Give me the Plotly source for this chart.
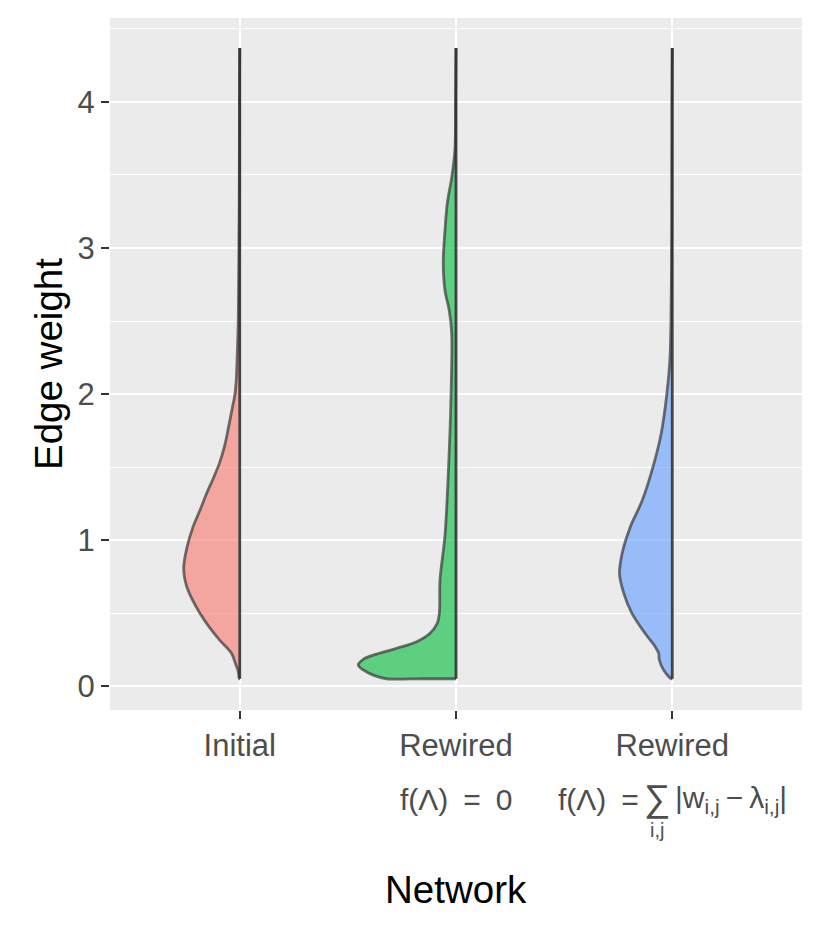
import plotly.graph_objects as go

# ---- data ----
categories = ["Initial", "Rewired", "Rewired"]
positions = [1, 2, 3]
fill_colors = ["rgba(248,118,109,0.6)", "rgba(0,186,56,0.6)", "rgba(97,156,255,0.6)"]

# half-violin outlines: edge weight (y) and half width (density scaled, x units)
initial_y = [0.05, 0.10, 0.15, 0.225, 0.315, 0.40, 0.50, 0.60, 0.68, 0.76, 0.82, 0.95,
             1.09, 1.20, 1.32, 1.43, 1.53, 1.65, 1.78, 1.90, 2.00, 2.10, 2.23, 2.50,
             3.00, 3.50, 4.00, 4.37]
initial_w = [0.002, 0.007, 0.019, 0.038, 0.093, 0.139, 0.185, 0.222, 0.245, 0.257, 0.259, 0.244,
             0.216, 0.185, 0.153, 0.120, 0.093, 0.069, 0.051, 0.035, 0.022, 0.016, 0.0125, 0.007,
             0.004, 0.002, 0.0014, 0.0]

rewired0_y = [0.05, 0.05, 0.075, 0.11, 0.144, 0.183, 0.219, 0.258, 0.303, 0.361, 0.429, 0.498, 0.726,
              1.03, 1.51, 1.99, 2.42, 2.57, 2.71, 2.90, 3.12, 3.31, 3.48, 3.67, 4.00, 4.37]
rewired0_w = [0.16, 0.321, 0.383, 0.429, 0.452, 0.429, 0.367, 0.275, 0.182, 0.120, 0.087, 0.077, 0.074,
              0.051, 0.034, 0.023, 0.020, 0.031, 0.051, 0.059, 0.051, 0.040, 0.020, 0.005, 0.002, 0.0]

rewiredf_y = [0.05, 0.11, 0.18, 0.225, 0.27, 0.36, 0.50, 0.64, 0.77, 0.86, 0.95, 1.09,
              1.27, 1.48, 1.73, 2.00, 2.23, 2.50, 3.00, 3.50, 4.00, 4.37]
rewiredf_w = [0.005, 0.040, 0.060, 0.063, 0.079, 0.125, 0.187, 0.225, 0.244, 0.238, 0.225, 0.194,
              0.139, 0.093, 0.051, 0.025, 0.011, 0.006, 0.003, 0.002, 0.0014, 0.0]

series = [(initial_y, initial_w), (rewired0_y, rewired0_w), (rewiredf_y, rewiredf_w)]

y_ticks = [0, 1, 2, 3, 4]

FONT = "Liberation Sans, Arial, Helvetica, sans-serif"
GREY = "#4D4D4D"

fig = go.Figure()

for pos, (ys, ws), fc in zip(positions, series, fill_colors):
    xs = [pos] + [pos - w for w in ws]
    yy = [ys[0]] + list(ys)
    fig.add_trace(go.Scatter(
        x=xs, y=yy, mode="lines", fill="toself", fillcolor=fc,
        line=dict(color="rgba(60,60,60,0.72)", width=2.8, shape="spline", smoothing=0.9),
        hoverinfo="skip", showlegend=False))
    fig.add_trace(go.Scatter(
        x=[pos, pos], y=[ys[0], ys[-1]], mode="lines",
        line=dict(color="rgba(45,45,45,0.88)", width=2.8),
        hoverinfo="skip", showlegend=False))

axis_common = dict(
    showgrid=True, gridcolor="white", gridwidth=2.4, zeroline=False, showline=False,
    ticks="outside", ticklen=8, tickwidth=2.2, tickcolor="#333333",
    tickfont=dict(family=FONT, size=31, color=GREY),
)

fig.update_xaxes(range=[0.4, 3.6], tickmode="array", tickvals=positions, ticktext=categories,
                 **axis_common)
fig.update_yaxes(range=[-0.164, 4.575], tickmode="array", tickvals=y_ticks,
                 ticktext=[str(t) for t in y_ticks],
                 minor=dict(tickvals=[0.5, 1.5, 2.5, 3.5, 4.5], showgrid=True,
                            gridcolor="white", gridwidth=1.2, ticks=""),
                 **axis_common)

sub_font = dict(family=FONT, size=30, color=GREY)
annotations = [
    dict(text="Network", xref="paper", yref="paper", x=0.5, y=-0.260,
         xanchor="center", yanchor="middle", showarrow=False,
         font=dict(family=FONT, size=38.5, color="black")),
    dict(text="Edge weight", xref="paper", yref="paper", x=-0.0896, y=0.5,
         xanchor="center", yanchor="middle", textangle=-90, showarrow=False,
         font=dict(family=FONT, size=38.5, color="black")),
    dict(text="f(Λ)\u2002=\u20020", xref="x", yref="paper", x=2, y=-0.130,
         xanchor="center", yanchor="middle", showarrow=False, font=sub_font),
    dict(text="f(Λ)\u2002=", xref="x", yref="paper", x=2.856, y=-0.130,
         xanchor="right", yanchor="middle", showarrow=False, font=sub_font),
    dict(text="∑", xref="x", yref="paper", x=2.93, y=-0.128,
         xanchor="center", yanchor="middle", showarrow=False,
         font=dict(family=FONT, size=37, color=GREY)),
    dict(text="|w<sub>i,j</sub>\u2009−\u2009λ<sub>i,j</sub>|", xref="x", yref="paper", x=3.005, y=-0.130,
         xanchor="left", yanchor="middle", showarrow=False, font=sub_font),
    dict(text="i,j", xref="x", yref="paper", x=2.93, y=-0.174,
         xanchor="center", yanchor="middle", showarrow=False,
         font=dict(family=FONT, size=20, color=GREY)),
]

fig.update_layout(
    width=830, height=932,
    margin=dict(l=102, r=36, t=10, b=230),
    paper_bgcolor="white", plot_bgcolor="#EBEBEB",
    font=dict(family=FONT),
    annotations=annotations,
    showlegend=False,
)

fig.write_html("out.html")
